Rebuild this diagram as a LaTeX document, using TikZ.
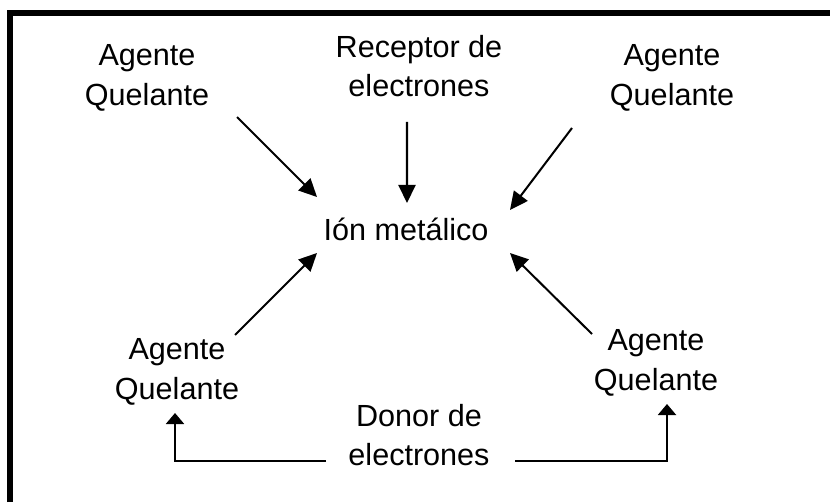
\documentclass[tikz,border=0pt]{standalone}
\usepackage{fontspec}
\setmainfont{Liberation Sans}
\usetikzlibrary{arrows.meta}

\tikzset{
  lbl/.style={align=center, inner sep=0pt, font=\fontsize{17.4}{22.5}\selectfont},
  elbow/.style={-{Triangle[length=0.22cm,width=0.36cm]}}
}

\begin{document}
\begin{tikzpicture}[>={Triangle[length=0.36cm,width=0.34cm]}, line width=1.15pt]
  \useasboundingbox (0,0) rectangle (16.6,10.04);
  \draw [line width=0.12cm] (0.2,0) -- (0.2,9.78) -- (16.6,9.78);
  % labels
  \node [lbl] (ion) at (8.12,5.46) {Ión metálico};
  \node [lbl] (tl) at (2.94,8.48) {Agente\\Quelante};
  \node [lbl] (rec) at (8.38,8.72) {Receptor de\\electrones};
  \node [lbl] (tr) at (13.44,8.48) {Agente\\Quelante};
  \node [lbl] (bl) at (3.54,2.60) {Agente\\Quelante};
  \node [lbl] (br) at (13.12,2.78) {Agente\\Quelante};
  \node [lbl] (don) at (8.38,1.34) {Donor de\\electrones};
  % arrows to the ion
  \draw [->] ([shift={(1.8,-0.78)}]tl.center) -- ([shift={(-1.78,0.64)}]ion.center);
  \draw [->] ([shift={(-0.24,-1.12)}]rec.center) -- ([shift={(0.02,0.52)}]ion.center);
  \draw [->] ([shift={(-2.0,-1.0)}]tr.center) -- ([shift={(2.08,0.38)}]ion.center);
  \draw [->] ([shift={(1.16,0.74)}]bl.center) -- ([shift={(-1.78,-0.48)}]ion.center);
  \draw [->] ([shift={(-1.28,0.58)}]br.center) -- ([shift={(2.08,-0.48)}]ion.center);
  % donor
  \draw [elbow] ([shift={(-1.86,-0.52)}]don.center) -| ([shift={(-0.04,-0.82)}]bl.center);
  \draw [elbow] ([shift={(1.92,-0.52)}]don.center) -| ([shift={(0.22,-0.82)}]br.center);
\end{tikzpicture}
\end{document}
